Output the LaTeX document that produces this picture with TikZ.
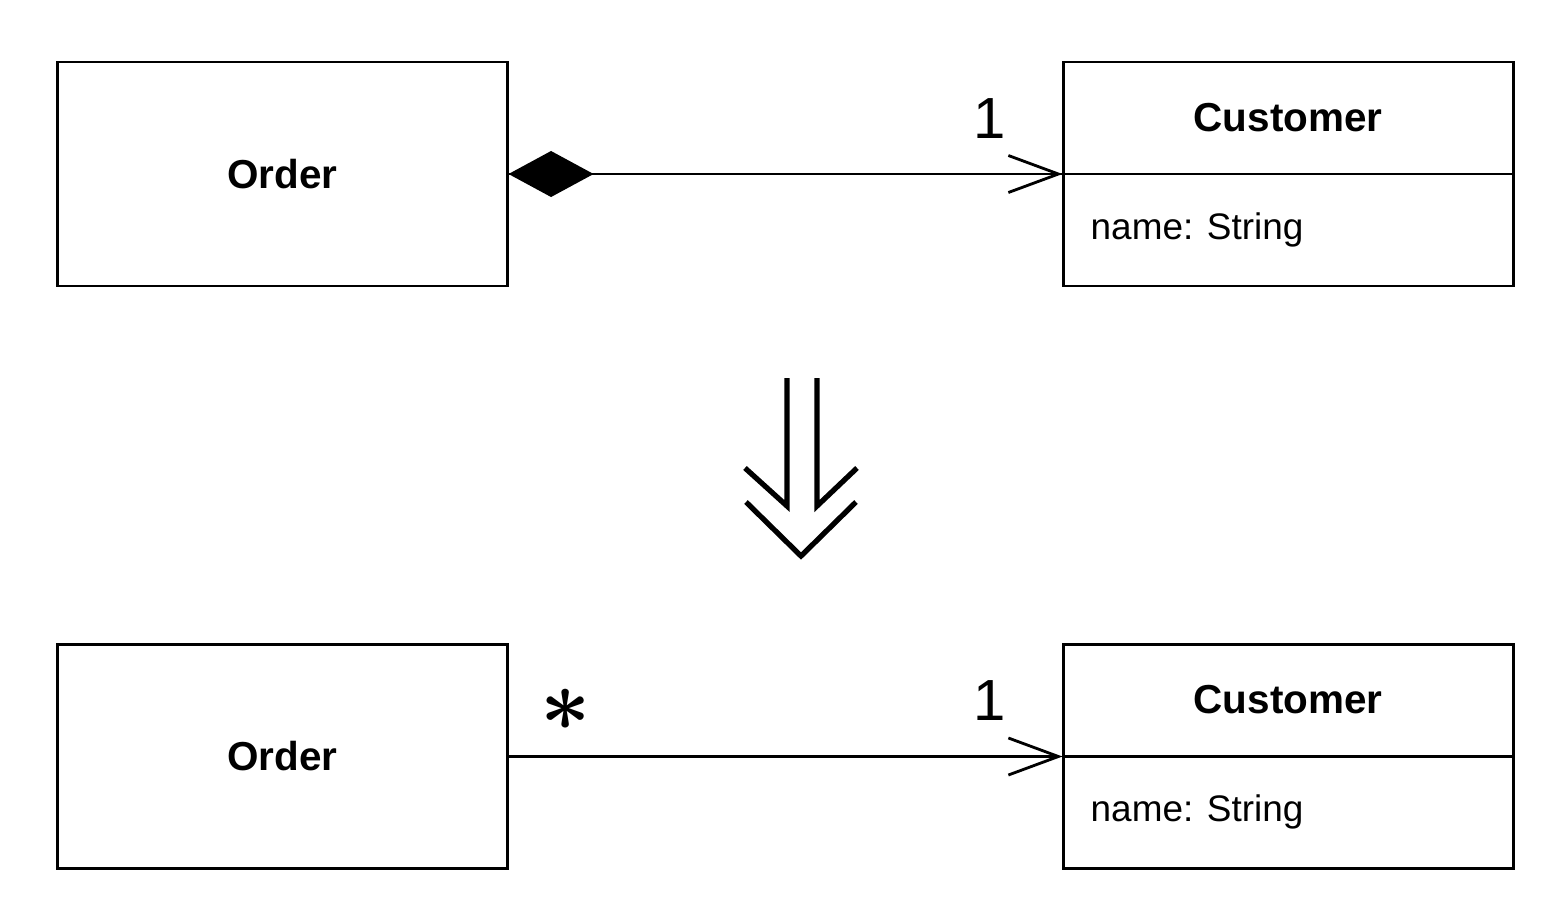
\documentclass[tikz,border=0pt]{standalone}
\usepackage{fontspec}
\setmainfont{Liberation Sans}
\usetikzlibrary{arrows.meta}
\begin{document}
\begin{tikzpicture}[x=0.01cm,y=-0.01cm,
  classbox/.style={draw, line width=0.8pt, minimum width=4.49cm, minimum height=2.24cm, inner sep=0pt},
  classname/.style={font=\fontsize{11.5}{13}\selectfont\bfseries, inner sep=0pt},
  attr/.style={font=\fontsize{10.5}{12}\selectfont, inner sep=0pt, anchor=west},
  mult/.style={font=\fontsize{16.5}{18}\selectfont, inner sep=0pt},
  assoc/.style={line width=0.8pt},
  navtip/.style={-{Straight Barb[length=0.5cm, width=0.37cm, line width=0.8pt]}},
  comptip/.style={{Diamond[length=0.85cm, width=0.46cm]}-},
  bigarrow/.style={line width=1.5pt}]
\useasboundingbox (0,0) rectangle (1568,914);
% top
\node[classbox] (ordA) at (282.5,174) {};
\node[classname] (ordAname) at (ordA.center) {Order};
\node[classbox] (custA) at (1288.5,174) {};
\draw[line width=0.8pt] (custA.west) -- (custA.east);
\node[classname] (custAname) at (1288,118) {Customer};
\node[attr] (custAattr) at (1090,230) {name: String};
\draw[assoc, comptip] (ordA.east) -- (custA.west);
\draw[assoc, navtip] (ordA.east) -- (custA.west);
\node[mult] (mA) at (990,119) {1};
% refactoring arrow
\draw[bigarrow] (787,378) -- (787,506) -- (745,468);
\draw[bigarrow] (817,378) -- (817,506) -- (857,468);
\draw[bigarrow] (746,502) -- (801,556) -- (856,502);
% bottom
\node[classbox] (ordB) at (282.5,756.5) {};
\node[classname] (ordBname) at (ordB.center) {Order};
\node[classbox] (custB) at (1288.5,756.5) {};
\draw[line width=0.8pt] (custB.west) -- (custB.east);
\node[classname] (custBname) at (1288,700) {Customer};
\node[attr] (custBattr) at (1090,812) {name: String};
\draw[assoc, navtip] (ordB.east) -- (custB.west);
\node[mult] (mB) at (990,701) {1};
\node[inner sep=0pt, font=\fontsize{29}{31}\selectfont\boldmath] (star) at (566,710) {$\ast$};
\end{tikzpicture}
\end{document}
